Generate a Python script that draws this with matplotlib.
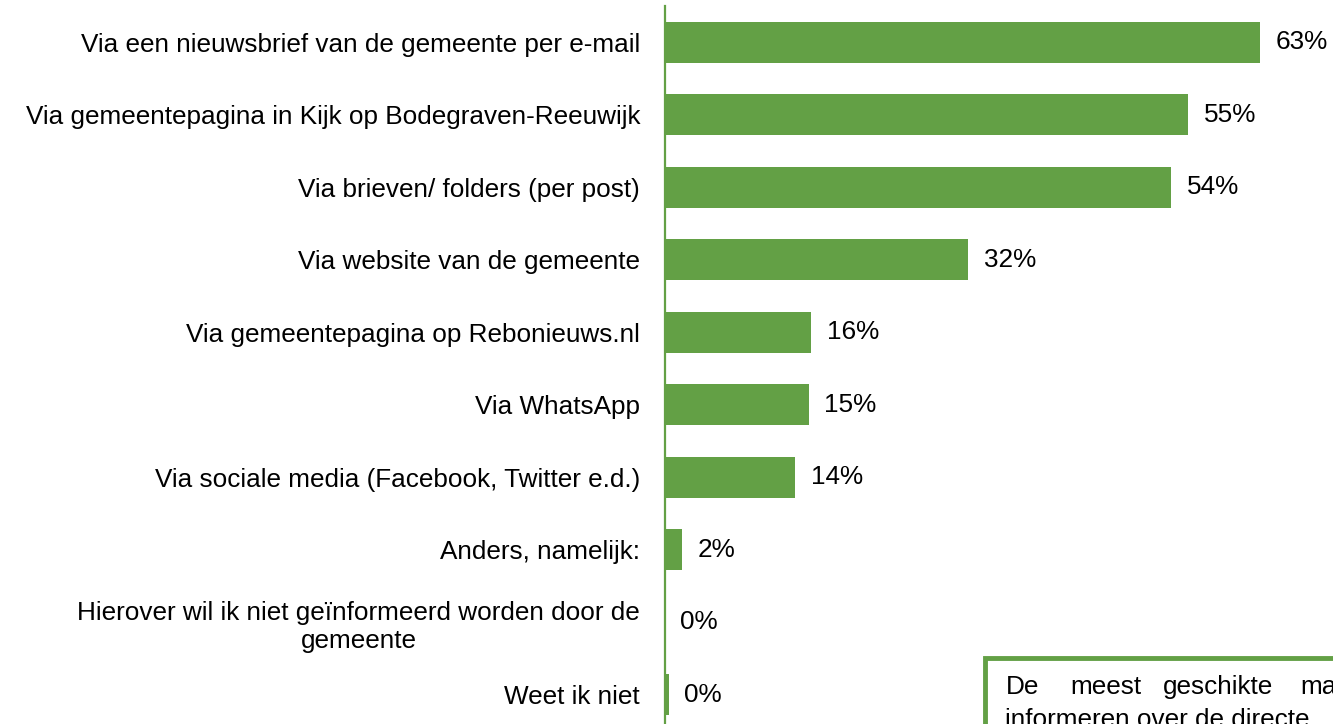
import matplotlib.pyplot as plt
from matplotlib.patches import Rectangle

plt.rcParams['font.family'] = ['Liberation Sans', 'DejaVu Sans']

# Data
categories = [
    'Via een nieuwsbrief van de gemeente per e-mail',
    'Via gemeentepagina in Kijk op Bodegraven-Reeuwijk',
    'Via brieven/ folders (per post)',
    'Via website van de gemeente',
    'Via gemeentepagina op Rebonieuws.nl',
    'Via WhatsApp',
    'Via sociale media (Facebook, Twitter e.d.)',
    'Anders, namelijk:',
    'Hierover wil ik niet geïnformeerd worden door de\ngemeente',
    'Weet ik niet',
]
values = [63.0, 55.4, 53.6, 32.1, 15.5, 15.2, 13.8, 1.8, 0.0, 0.4]

green = '#63A045'
W, H = 1333, 724
fs = 18.8

fig = plt.figure(figsize=(W / 100, H / 100), dpi=100)
ax = fig.add_axes([665 / W, -7 / H, 668 / W, 725 / H])

y = list(range(len(categories)))
ax.barh(y, values, height=0.565, color=green)
ax.set_ylim(len(categories) - 0.5, -0.5)
ax.set_xlim(0, 70.7)

for yi, v in zip(y, values):
    ax.annotate(f'{v:.0f}%', (v, yi), xytext=(11, 0), textcoords='offset points',
                va='center', ha='left', fontsize=fs)

ax.set_yticks(y)
ax.set_yticklabels(categories, fontsize=fs, multialignment='center')
ax.tick_params(axis='y', length=0, pad=18)
ax.tick_params(axis='x', bottom=False, labelbottom=False)

for side in ['top', 'right', 'bottom']:
    ax.spines[side].set_visible(False)
ax.spines['left'].set_color(green)
ax.spines['left'].set_linewidth(1.6)

# Text box at bottom right (cut off by figure edge, as in the source)
fig.patches.append(Rectangle((985 / W, -0.1), 0.5, (724 - 658) / H + 0.1,
                             transform=fig.transFigure, fill=False,
                             edgecolor=green, linewidth=3.5))
words = ['De', 'meest', 'geschikte', 'ma']
word_x = [1006, 1070, 1163, 1300]
for w, x in zip(words, word_x):
    fig.text(x / W, 1 - 694 / H, w, fontsize=fs, va='baseline', ha='left')
fig.text(1005 / W, 1 - 727 / H, 'informeren over de directe', fontsize=fs,
         va='baseline', ha='left')

fig.savefig('out.png', dpi=100)
